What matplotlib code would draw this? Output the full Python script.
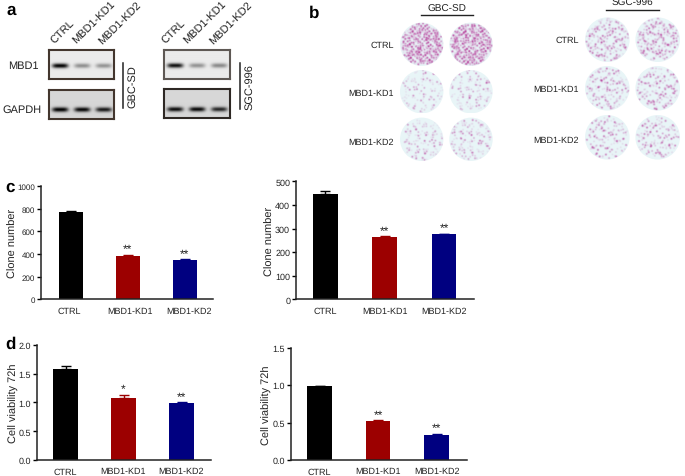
import numpy as np
import matplotlib
matplotlib.use("Agg")
import matplotlib.pyplot as plt
from matplotlib.patches import Circle
from matplotlib.colors import to_rgb

plt.rcParams["font.family"] = ["Liberation Sans", "DejaVu Sans"]
plt.rcParams["text.hinting"] = "none"
plt.rcParams["text.hinting_factor"] = 1

W, H = 685, 477

groups = ["CTRL", "MBD1-KD1", "MBD1-KD2"]
bar_colors = ["#000000", "#9c0000", "#000080"]

clone_gbc = [770, 385, 350]
clone_gbc_err = [8, 8, 5]
clone_sgc = [445, 265, 275]
clone_sgc_err = [12, 3, 3]
viab_gbc = [1.58, 1.08, 0.99]
viab_gbc_err = [0.05, 0.05, 0.01]
viab_sgc = [0.99, 0.52, 0.34]
viab_sgc_err = [0.005, 0.01, 0.01]

stars_clone_gbc = ["", "**", "**"]
stars_clone_sgc = ["", "**", "**"]
stars_viab_gbc = ["", "*", "**"]
stars_viab_sgc = ["", "**", "**"]

# band strength per lane, read by eye from the blots
mbd1_gbc = [0.92, 0.36, 0.34]
gapdh_gbc = [0.85, 0.82, 0.75]
mbd1_sgc = [0.85, 0.34, 0.38]
gapdh_sgc = [0.80, 0.82, 0.70]

# estimated colonies per well, rows CTRL / KD1 / KD2, two wells each
colonies_gbc = [[600, 600], [110, 130], [150, 160]]
colonies_sgc = [[230, 270], [170, 180], [150, 160]]


def add_px_axes(fig, left, top, right, bottom):
    return fig.add_axes([left / W, 1 - bottom / H, (right - left) / W, (bottom - top) / H])


def draw_bars(fig, rect, first, step, width, values, errors, stars, yticks, ylabel,
              label_x, tick_size=6.2, label_size=7.8, label_shift=(0, 0, 0)):
    left, top, right, bottom = rect
    ax = add_px_axes(fig, left, top, right, bottom)
    x = np.arange(len(values))
    ax.bar(x, values, width=width / step, color=bar_colors, edgecolor="none")
    for xi, v, e, c in zip(x, values, errors, bar_colors):
        ax.errorbar(xi, v, yerr=[[0], [e]], color=c, capsize=3.6, capthick=1, elinewidth=1)
    ax.set_xlim((left - first) / step, (right - first) / step)
    ax.set_ylim(yticks[0], yticks[-1])
    ax.set_yticks(yticks)
    ax.set_xticks(x + np.array(label_shift) / step)
    ax.set_xticklabels(groups, fontsize=6.7, color="#222222")
    ax.tick_params(axis="x", length=0, pad=5)
    ax.tick_params(axis="y", labelsize=tick_size, length=3, width=1, pad=1, labelcolor="#222222")
    for side in ["top", "right"]:
        ax.spines[side].set_visible(False)
    for side in ["left", "bottom"]:
        ax.spines[side].set_linewidth(1.1)
        ax.spines[side].set_color("#222222")
    ax.set_ylabel(ylabel, fontsize=label_size, color="#222222")
    ax.yaxis.set_label_coords((label_x + 7.5 - left) / (right - left), 0.5)
    for xi, v, e, s in zip(x, values, errors, stars):
        if s:
            ax.annotate(s, (xi, v + e), xytext=(0, 0), textcoords="offset points",
                        ha="center", va="bottom", fontsize=8.6, color="#222222")
    return ax


def draw_blot(fig, left, top, right, bottom, strengths, base, centers, band_y, frame):
    ax = add_px_axes(fig, left, top, right, bottom)
    yy, xx = np.mgrid[top:bottom:0.5, left:right:0.5]
    img = np.full(xx.shape, base, dtype=float)
    for cx, s in zip(centers, strengths):
        band = np.exp(-((xx - cx) / 8.0) ** 4) * np.exp(-((yy - band_y) / 2.3) ** 2)
        img -= s * band
    ax.imshow(np.clip(img, 0, 1), cmap="gray", vmin=0, vmax=1, aspect="auto",
              extent=(left, right, bottom, top), interpolation="bilinear")
    ax.set_xticks([])
    ax.set_yticks([])
    for sp in ax.spines.values():
        sp.set_linewidth(1.5)
        sp.set_color(frame)


def draw_plate(ax, cx, cy, radius, count, start, faint=1.0, warp=0.08):
    # low-discrepancy placement: stands in for the photographed colony texture
    idx = np.arange(start, start + int(count * 1.3))
    u = (idx * 0.7548776662) % 1 * 2 - 1
    v = (idx * 0.5698402910) % 1 * 2 - 1
    # warp and shake the lattice so the colonies clump a little like the photo
    u2 = u + warp * np.sin(9.1 * v + start) + 0.09 * ((idx * 0.2247448714) % 1 * 2 - 1)
    v2 = v + warp * np.sin(7.7 * u + 0.7 * start) + 0.09 * ((idx * 0.4142135624) % 1 * 2 - 1)
    keep = u2 ** 2 + v2 ** 2 < 0.92
    px = radius * u2[keep]
    py = radius * v2[keep]
    weight = faint * (0.14 + 1.0 * ((idx[keep] * 0.381966) % 1) ** 3)

    # soft spots on a half-pixel grid, the reference is a blurred photo
    gy, gx = np.mgrid[-radius:radius:0.5, -radius:radius:0.5]
    dens = np.exp(-((gx[..., None] - px) ** 2 + (gy[..., None] - py) ** 2) / (2 * 0.62 ** 2))
    alpha = 1 - np.exp(-(dens * weight).sum(axis=-1))
    bg = np.array(to_rgb("#e9f6f8"))
    dot = np.array(to_rgb("#b02a90"))
    rgb = bg + (dot - bg) * alpha[..., None]
    im = ax.imshow(rgb, extent=(cx - radius, cx + radius, cy + radius, cy - radius),
                   aspect="auto", interpolation="bilinear", zorder=1)
    im.set_clip_path(Circle((cx, cy), radius, transform=ax.transData))


fig = plt.figure(figsize=(W / 100, H / 100), dpi=100)

# pixel-space overlay for labels, rules and plates
ov = fig.add_axes([0, 0, 1, 1])
ov.axis("off")

# panel letters
for letter, px, py in [("a", 11, 10), ("b", 314, 13), ("c", 10.5, 187), ("d", 10.5, 344)]:
    ov.text(px, py, letter, fontsize=12.5, fontweight="bold", ha="center", va="center")

# panel a
lanes_l = [59.5, 81.5, 103]
lanes_r = [175, 197, 219]
draw_blot(fig, 48.5, 51, 113.5, 80, mbd1_gbc, 0.92, lanes_l, 66.5, "#43362e")
draw_blot(fig, 48.5, 90.5, 113.5, 120, gapdh_gbc, 0.84, lanes_l, 110.5, "#43362e")
draw_blot(fig, 164, 50.5, 230, 80, mbd1_sgc, 0.92, lanes_r, 66.5, "#5e5854")
draw_blot(fig, 164, 90, 230, 119, gapdh_sgc, 0.84, lanes_r, 110, "#2e2824")

ov.text(38.5, 66.5, "MBD1", fontsize=7.6, ha="right", va="center", color="#222222")
ov.text(41.5, 110.5, "GAPDH", fontsize=7.6, ha="right", va="center", color="#222222")
for name, px, py in [("CTRL", 56, 46), ("MBD1-KD1", 78, 46), ("MBD1-KD2", 103.5, 47),
                     ("CTRL", 167, 46), ("MBD1-KD1", 189, 46), ("MBD1-KD2", 214.5, 47)]:
    ov.text(px, py, name, fontsize=7.6, rotation=45, rotation_mode="anchor",
            ha="left", va="bottom", color="#222222")
ov.plot([123.3, 123.3], [63.5, 109], color="#222222", lw=1.1)
ov.plot([239.7, 239.7], [63.5, 110], color="#222222", lw=1.1)
ov.text(132.7, 86.7, "GBC-SD", fontsize=7.6, rotation=90, ha="center", va="center", color="#222222")
ov.text(249.3, 87.3, "SGC-996", fontsize=7.6, rotation=90, ha="center", va="center", color="#222222")

# panel b
for row, (py, ly) in enumerate(zip([45.3, 92.7, 140.3], [45.5, 93.3, 142.3])):
    ov.text(394, ly, groups[row], fontsize=6.8, ha="right", va="center", color="#222222")
    for col, px in enumerate([421.7, 471]):
        draw_plate(ov, px, py, 21.7, colonies_gbc[row][col], 7 + 900 * row + 400 * col,
                   faint=1.0 if row == 0 else 0.7)
for row, (py, ly) in enumerate(zip([40.7, 89.3, 138.3], [40.7, 89.3, 140.7])):
    ov.text(579, ly, groups[row], fontsize=6.8, ha="right", va="center", color="#222222")
    for col, px in enumerate([607.3, 657.7]):
        draw_plate(ov, px, py, 22.3, colonies_sgc[row][col], 53 + 700 * row + 350 * col, warp=0.14)
ov.text(447.3, 9.3, "GBC-SD", fontsize=6.9, ha="center", va="center", color="#222222")
ov.plot([421.3, 473], [15.7, 15.7], color="#222222", lw=1)
ov.text(632, 3.7, "SGC-996", fontsize=6.9, ha="center", va="center", color="#222222")
ov.plot([606, 658.7], [11, 11], color="#222222", lw=1)

# imshow resets the limits, so fix the pixel frame last
ov.set_xlim(0, W)
ov.set_ylim(H, 0)
ov.set_aspect("auto")

# panels c and d
draw_bars(fig, (41, 187, 213, 300.3), 70.7, 57, 24, clone_gbc, clone_gbc_err, stars_clone_gbc,
          [0, 200, 400, 600, 800, 1000], "Clone number", 11, tick_size=5.6, label_shift=(-1, 2, 4.5))
draw_bars(fig, (295.7, 182.3, 474, 300.3), 325.3, 59.4, 24.7, clone_sgc, clone_sgc_err,
          stars_clone_sgc, [0, 100, 200, 300, 400, 500], "Clone number", 267.7)
draw_bars(fig, (36.7, 345.7, 211, 461), 65.5, 58, 24.4, viab_gbc, viab_gbc_err, stars_viab_gbc,
          [0.0, 0.5, 1.0, 1.5, 2.0], "Cell viability 72h", 11.7, tick_size=6.4, label_size=8)
draw_bars(fig, (290.7, 348.7, 466.7, 461), 319.5, 58.6, 24.6, viab_sgc, viab_sgc_err,
          stars_viab_sgc, [0.0, 0.5, 1.0, 1.5], "Cell viability 72h", 265, tick_size=6.6, label_size=8)

fig.savefig("out.png", dpi=100)
